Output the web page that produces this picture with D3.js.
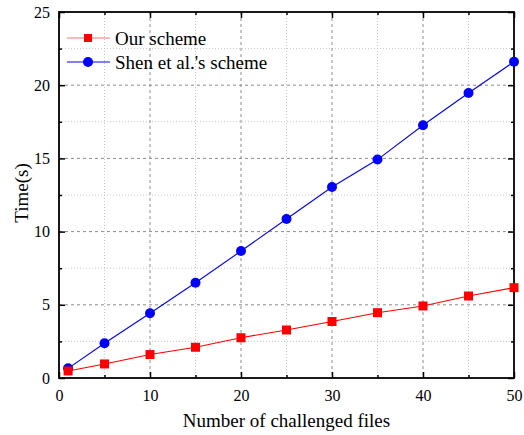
<!DOCTYPE html>
<html>
<head>
<meta charset="utf-8">
<script src="https://cdn.jsdelivr.net/npm/d3@7"></script>
<style>
  body { margin: 0; background: #fff; }
  svg { font-family: "Liberation Serif", "Times New Roman", serif; }
</style>
</head>
<body>
<div id="chart"></div>
<script>
"use strict";

var files = [1, 5, 10, 15, 20, 25, 30, 35, 40, 45, 50];
var ourScheme = [0.48, 0.96, 1.6, 2.1, 2.75, 3.28, 3.86, 4.46, 4.92, 5.6, 6.17];
var shenScheme = [0.66, 2.37, 4.42, 6.51, 8.67, 10.86, 13.05, 14.92, 17.26, 19.47, 21.6];
var xTicks = [0, 10, 20, 30, 40, 50];
var yTicks = [0, 5, 10, 15, 20, 25];

var margin = { top: 12, right: 10, bottom: 57, left: 59 };
var width = 524 - margin.left - margin.right;
var height = 435 - margin.top - margin.bottom;

var svg = d3.select("#chart").append("svg")
    .attr("width", 524)
    .attr("height", 435);
var g = svg.append("g")
    .attr("transform", "translate(" + margin.left + "," + margin.top + ")");

var x = d3.scaleLinear().domain([0, 50]).range([0, width]);
var y = d3.scaleLinear().domain([0, 25]).range([height, 0]);

// Grid: dotted minor lines, dashed major lines
var xMinor = d3.range(5, 50, 10);
var yMinor = d3.range(2.5, 25, 5);
g.selectAll(".gx-minor").data(xMinor).enter().append("line")
    .attr("x1", function (d) { return x(d); }).attr("x2", function (d) { return x(d); })
    .attr("y1", 0).attr("y2", height)
    .attr("stroke", "#c8c8c8").attr("stroke-dasharray", "1,2");
g.selectAll(".gy-minor").data(yMinor).enter().append("line")
    .attr("y1", function (d) { return y(d); }).attr("y2", function (d) { return y(d); })
    .attr("x1", 0).attr("x2", width)
    .attr("stroke", "#c8c8c8").attr("stroke-dasharray", "1,2");
g.selectAll(".gx-major").data(xTicks.slice(1, -1)).enter().append("line")
    .attr("x1", function (d) { return x(d); }).attr("x2", function (d) { return x(d); })
    .attr("y1", 0).attr("y2", height)
    .attr("stroke", "#8c8c8c").attr("stroke-dasharray", "3,3");
g.selectAll(".gy-major").data(yTicks.slice(1, -1)).enter().append("line")
    .attr("y1", function (d) { return y(d); }).attr("y2", function (d) { return y(d); })
    .attr("x1", 0).attr("x2", width)
    .attr("stroke", "#8c8c8c").attr("stroke-dasharray", "3,3");

// Axes with inward ticks on all four sides
function styleAxis(sel) {
    sel.select(".domain").remove();
    sel.selectAll("line").attr("stroke", "#000").attr("stroke-width", 1.5);
    sel.selectAll("text").attr("font-size", 16).attr("fill", "#000")
        .style("font-family", "'Liberation Serif', serif");
}
g.append("g").attr("transform", "translate(0," + height + ")")
    .call(d3.axisBottom(x).tickValues(xTicks).tickSize(-6).tickPadding(12))
    .call(styleAxis);
g.append("g").attr("transform", "translate(0," + height + ")")
    .call(d3.axisBottom(x).tickValues(xMinor).tickSize(-3).tickFormat(""))
    .call(styleAxis);
g.append("g")
    .call(d3.axisTop(x).tickValues(xTicks).tickSize(-6).tickFormat(""))
    .call(styleAxis);
g.append("g")
    .call(d3.axisTop(x).tickValues(xMinor).tickSize(-3).tickFormat(""))
    .call(styleAxis);
g.append("g")
    .call(d3.axisLeft(y).tickValues(yTicks).tickSize(-6).tickPadding(9))
    .call(styleAxis);
g.append("g")
    .call(d3.axisLeft(y).tickValues(yMinor).tickSize(-3).tickFormat(""))
    .call(styleAxis);
g.append("g").attr("transform", "translate(" + width + ",0)")
    .call(d3.axisRight(y).tickValues(yTicks).tickSize(-6).tickFormat(""))
    .call(styleAxis);
g.append("g").attr("transform", "translate(" + width + ",0)")
    .call(d3.axisRight(y).tickValues(yMinor).tickSize(-3).tickFormat(""))
    .call(styleAxis);

g.append("rect")
    .attr("width", width).attr("height", height)
    .attr("fill", "none").attr("stroke", "#000").attr("stroke-width", 1.8);

// Series
var line = d3.line()
    .x(function (d) { return x(d[0]); })
    .y(function (d) { return y(d[1]); });
var ourData = d3.zip(files, ourScheme);
var shenData = d3.zip(files, shenScheme);

g.append("path").datum(shenData).attr("d", line)
    .attr("fill", "none").attr("stroke", "#0000ff").attr("stroke-width", 1.1);
g.append("path").datum(ourData).attr("d", line)
    .attr("fill", "none").attr("stroke", "#ff0000").attr("stroke-width", 1.1);

g.selectAll(".shen").data(shenData).enter().append("circle")
    .attr("cx", function (d) { return x(d[0]); })
    .attr("cy", function (d) { return y(d[1]); })
    .attr("r", 5).attr("fill", "#0000ff");
g.selectAll(".our").data(ourData).enter().append("rect")
    .attr("x", function (d) { return x(d[0]) - 4.5; })
    .attr("y", function (d) { return y(d[1]) - 4.5; })
    .attr("width", 9).attr("height", 9).attr("fill", "#ff0000");

// Legend
var legend = [
    { name: "Our scheme", color: "#ff0000", shape: "square" },
    { name: "Shen et al.'s scheme", color: "#0000ff", shape: "circle" }
];
var lg = svg.append("g").attr("transform", "translate(67,38)");
legend.forEach(function (d, i) {
    var row = lg.append("g").attr("transform", "translate(0," + (i * 24) + ")");
    row.append("line").attr("x1", 0).attr("x2", 43)
        .attr("stroke", d.color).attr("stroke-width", 1.2)
        .attr("stroke-opacity", d.shape === "square" ? 0.55 : 1);
    if (d.shape === "square") {
        row.append("rect").attr("x", 17).attr("y", -4).attr("width", 8).attr("height", 8)
            .attr("fill", d.color);
    } else {
        row.append("circle").attr("cx", 21).attr("r", 5).attr("fill", d.color);
    }
    row.append("text").attr("x", 48).attr("y", 6.5)
        .attr("font-size", 19).attr("fill", "#000").text(d.name);
});

// Axis titles
svg.append("text")
    .attr("x", margin.left + width / 2).attr("y", 427)
    .attr("text-anchor", "middle").attr("font-size", 19)
    .text("Number of challenged files");
svg.append("text")
    .attr("transform", "translate(28,193) rotate(-90)")
    .attr("text-anchor", "middle").attr("font-size", 19)
    .text("Time(s)");
</script>
</body>
</html>
